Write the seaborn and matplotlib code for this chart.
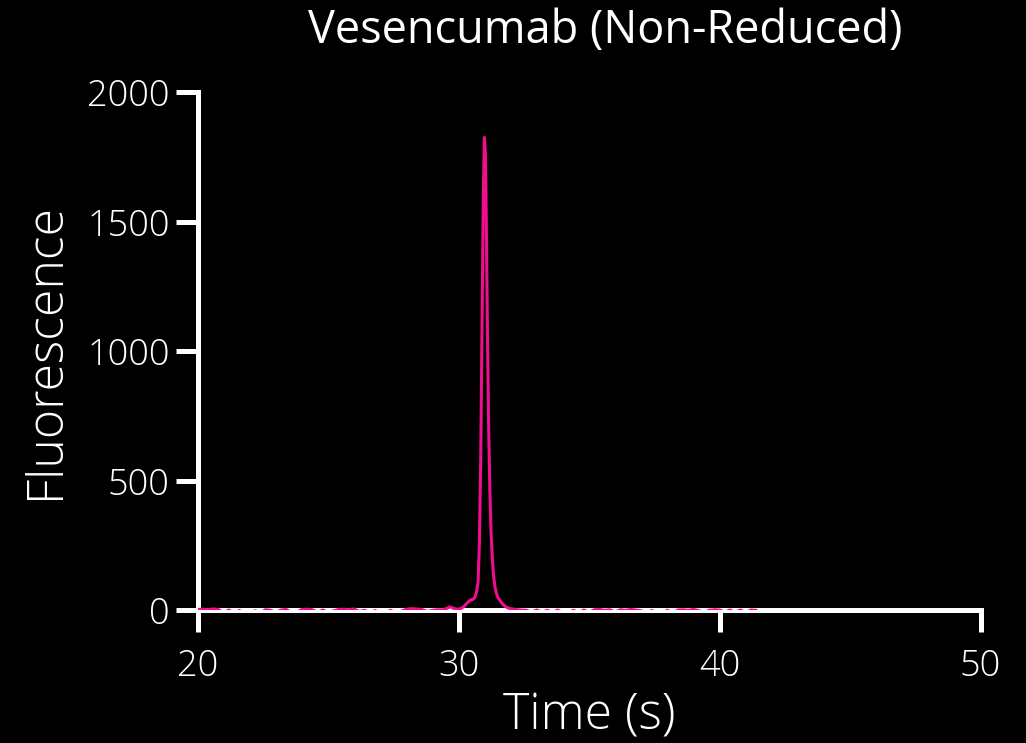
import matplotlib
matplotlib.use("Agg")
import matplotlib.pyplot as plt
import seaborn as sns
import pandas as pd

# ---- data ----
base_left_time = [20.0, 20.2, 20.4, 20.6, 20.8, 21.0, 21.2, 21.4, 21.6, 21.8,
                  22.0, 22.2, 22.4, 22.6, 22.8, 23.0, 23.2, 23.4, 23.6, 23.8,
                  24.0, 24.2, 24.4, 24.6, 24.8, 25.0, 25.2, 25.4, 25.6, 25.8,
                  26.0, 26.2, 26.4, 26.6, 26.8, 27.0, 27.2, 27.4, 27.6, 27.8,
                  28.0, 28.2, 28.4, 28.6, 28.8, 29.0, 29.2]
base_left_fluor = [2, 3, 1, 4, 2, -10, 0, -12, -2, -11,
                   -14, -3, -12, 1, -1, -9, 0, 2, -10, -8,
                   2, 3, 1, -9, 0, -10, -4, 2, 3, 1,
                   4, -6, -1, -12, -2, -11, -13, -1, -12, -5,
                   3, 5, 4, 2, -6, -1, 1]

peak_time = [29.4, 29.5, 29.6, 29.65, 29.7, 29.8, 29.9, 30.0, 30.1, 30.2,
             30.3, 30.4, 30.45, 30.5, 30.55, 30.6, 30.65, 30.7, 30.75, 30.8,
             30.85, 30.9, 30.95, 30.99, 31.03, 31.07, 31.1, 31.15, 31.2, 31.25,
             31.3, 31.35, 31.4, 31.45, 31.5, 31.55, 31.6, 31.7, 31.8, 31.9,
             32.0, 32.2, 32.4]
peak_fluor = [1, 4, 9, 12, 11, 7, 4, 3, 6, 13,
              24, 34, 38, 40, 41, 45, 55, 75, 110, 260,
              580, 1080, 1600, 1825, 1760, 1450, 1150, 730, 460, 290,
              190, 125, 88, 65, 50, 42, 35, 22, 13, 8,
              5, 2, 0]

base_right_time = [32.6, 32.8, 33.0, 33.2, 33.4, 33.6, 33.8, 34.0, 34.2, 34.4,
                   34.6, 34.8, 35.0, 35.2, 35.4, 35.6, 35.8, 36.0, 36.2, 36.4,
                   36.6, 36.8, 37.0, 37.2, 37.4, 37.6, 37.8, 38.0, 38.2, 38.4,
                   38.6, 38.8, 39.0, 39.2, 39.4, 39.6, 39.8, 40.0, 40.2, 40.4,
                   40.6, 40.8, 41.0, 41.2, 41.4]
base_right_fluor = [-1, -8, 0, -9, -1, -10, 0, -11, -13, -1,
                    -10, 0, -9, 1, 2, -1, 1, -8, 1, -1,
                    2, 0, -3, -12, -2, -11, -14, -1, -12, 0,
                    1, -1, 2, -2, -10, -1, 1, 0, -8, 0,
                    -9, 0, -10, 0, -1]

x_ticks = [20, 30, 40, 50]
y_ticks = [0, 500, 1000, 1500, 2000]
title = "Vesencumab (Non-Reduced)"
x_label = "Time (s)"
y_label = "Fluorescence"

df = pd.DataFrame({
    "Time": base_left_time + peak_time + base_right_time,
    "Fluorescence": base_left_fluor + peak_fluor + base_right_fluor,
})

# ---- style ----
sns.set_theme(style="ticks", rc={
    "figure.facecolor": "black",
    "axes.facecolor": "black",
    "axes.edgecolor": "white",
    "axes.linewidth": 3.6,
    "xtick.color": "white",
    "ytick.color": "white",
    "xtick.labelcolor": "white",
    "ytick.labelcolor": "white",
    "xtick.major.width": 3.6,
    "ytick.major.width": 3.6,
    "xtick.major.size": 16,
    "ytick.major.size": 16,
    "text.color": "white",
    "axes.labelcolor": "white",
})
plt.rcParams["font.family"] = ["Open Sans", "DejaVu Sans"]

fig = plt.figure(figsize=(10.26, 7.43), dpi=100)
ax = fig.add_axes([0.1925, 0.179, 0.7632, 0.697])

sns.lineplot(data=df, x="Time", y="Fluorescence", ax=ax, color="#F20C8E",
             linewidth=2.2, zorder=5, clip_on=True)

ax.set_xlim(20, 50)
ax.set_ylim(0, 2000)
ax.set_xticks(x_ticks)
ax.set_yticks(y_ticks)
ax.tick_params(axis="x", labelsize=26, pad=11)
ax.tick_params(axis="y", labelsize=26, pad=4)
for lab in ax.get_xticklabels() + ax.get_yticklabels():
    lab.set_fontweight("light")
sns.despine(ax=ax)
ax.set_xlabel(x_label, fontsize=36, fontweight="light", labelpad=5)
ax.set_ylabel(y_label, fontsize=36, fontweight="light", labelpad=12)
fig.text(605 / 1026, 1 - 31 / 743, title, ha="center", va="center",
         fontsize=32.5, fontweight="medium", color="white")

fig.savefig("out.png", dpi=100, facecolor="black")
